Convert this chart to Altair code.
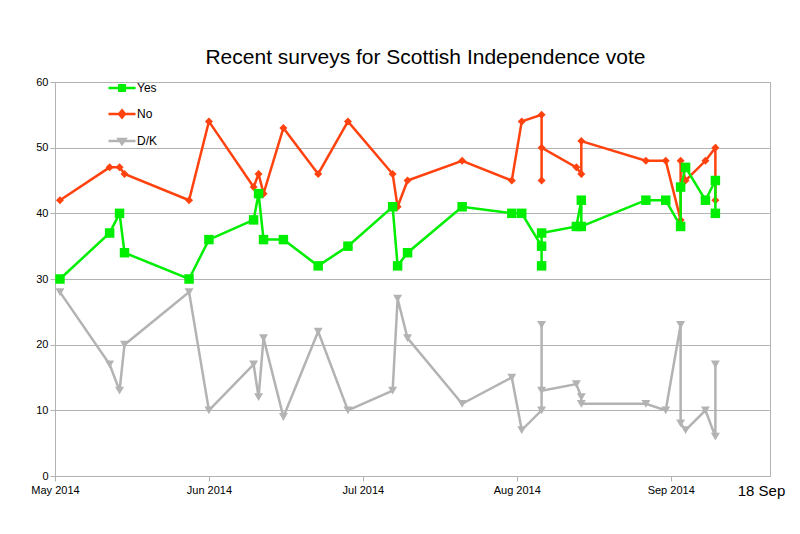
import altair as alt
import pandas as pd

# ---- data ----
dates = ["2014-05-02", "2014-05-12", "2014-05-14", "2014-05-15", "2014-05-28", "2014-06-01",
         "2014-06-10", "2014-06-11", "2014-06-12", "2014-06-16", "2014-06-23", "2014-06-29",
         "2014-07-08", "2014-07-09", "2014-07-11", "2014-07-22", "2014-08-01", "2014-08-03",
         "2014-08-07", "2014-08-07", "2014-08-07", "2014-08-14", "2014-08-15", "2014-08-15",
         "2014-08-28", "2014-09-01", "2014-09-04", "2014-09-04", "2014-09-05", "2014-09-09",
         "2014-09-11", "2014-09-11"]
yes = [30, 37, 40, 34, 30, 36, 39, 43, 36, 36, 32, 35, 41, 32, 34, 41, 40, 40, 35, 32,
       37, 38, 42, 38, 42, 42, 38, 44, 47, 42, 45, 40]
no = [42, 47, 47, 46, 42, 54, 44, 46, 43, 53, 46, 54, 46, 41, 45, 48, 45, 54, 55, 45,
      50, 47, 46, 51, 48, 48, 39, 48, 45, 48, 50, 42]
dk = [28, 17, 13, 20, 28, 10, 17, 12, 21, 9, 22, 10, 13, 27, 21, 11, 15, 7, 10, 23,
      13, 14, 12, 11, 11, 10, 23, 8, 7, 10, 6, 17]

series_names = ["Yes", "No", "D/K"]
series_colors = ["#00ee00", "#ff420e", "#b3b3b3"]
point_shapes = ["square", "diamond", "triangle-down"]
point_sizes = [90, 64, 80]
legend_paths = [
    "M-1,0H1M-0.2,-0.2H0.2V0.2H-0.2Z",
    "M-1,0H1M0,-0.27L0.22,0L0,0.27L-0.22,0Z",
    "M-1,0H1M-0.25,-0.14H0.25L0,0.22Z",
]
x_ticks = ["2014-05-01", "2014-06-01", "2014-07-02", "2014-08-02", "2014-09-02"]
y_ticks = [0, 10, 20, 30, 40, 50, 60]
title_text = "Recent surveys for Scottish Independence vote"
end_label = "18 Sep"

rows = []
for name, vals in zip(series_names, [yes, no, dk]):
    for i, (d, v) in enumerate(zip(dates, vals)):
        rows.append({"date": d, "series": name, "value": v, "idx": i})
df = pd.DataFrame(rows)

FONT = "Liberation Sans"
GRID = "#b3b3b3"


def dt(s):
    y, m, d = [int(p) for p in s.split("-")]
    return alt.DateTime(year=y, month=m, date=d, utc=True)


x_scale = alt.Scale(type="utc", domain=[dt("2014-05-01"), dt("2014-09-22")])
y_scale = alt.Scale(domain=[0, 60], nice=False)

x_axis = alt.Axis(values=[dt(s) for s in x_ticks], format="%b %Y", grid=False,
                  labelFont=FONT, labelFontSize=11, labelColor="#000000",
                  labelPadding=3, tickSize=5, tickColor=GRID, domainColor=GRID,
                  title=end_label, titleFont=FONT, titleFontSize=15,
                  titleFontWeight="normal", titleColor="#000000",
                  titleAlign="center", titleBaseline="alphabetic",
                  titleX=706, titleY=19, labelFlush=False)
y_axis = alt.Axis(values=y_ticks, grid=True, gridColor=GRID, labelFont=FONT,
                  labelFontSize=11, labelColor="#000000", labelPadding=2,
                  tickSize=5, tickColor=GRID, domainColor=GRID, title=None)

layers = []
for name, color, shp, sz in reversed(list(zip(series_names, series_colors, point_shapes, point_sizes))):
    sub = df[df["series"] == name]
    base = alt.Chart(sub).encode(
        x=alt.X("date:T", scale=x_scale, axis=x_axis),
        y=alt.Y("value:Q", scale=y_scale, axis=y_axis),
        order=alt.Order("idx:Q"),
    )
    layers.append(base.mark_line(color=color, strokeWidth=2.5))
    layers.append(base.mark_point(filled=True, shape=shp, size=sz, color=color,
                                  opacity=1, strokeWidth=0))

# legend layer (out of the visible domain, clipped away)
leg_df = pd.DataFrame({"date": ["2014-04-01"] * 3, "series": series_names, "value": [30] * 3})
legend_layer = alt.Chart(leg_df).mark_point(filled=True, clip=True, opacity=1, strokeWidth=2.5).encode(
    x=alt.X("date:T", scale=x_scale, axis=x_axis),
    y=alt.Y("value:Q", scale=y_scale, axis=y_axis),
    color=alt.Color("series:N", scale=alt.Scale(domain=series_names, range=series_colors), title=None),
    stroke=alt.Stroke("series:N", scale=alt.Scale(domain=series_names, range=series_colors), title=None),
    shape=alt.Shape("series:N", scale=alt.Scale(domain=series_names, range=legend_paths), title=None),
)
layers.append(legend_layer)

chart = alt.layer(*layers).properties(
    width=715, height=394,
    title=alt.TitleParams(title_text, font=FONT, fontSize=21, fontWeight="normal",
                          color="#000000", anchor="middle", dx=13, offset=5),
    autosize=alt.AutoSizeParams(type="none"),
    padding={"left": 47, "top": 74, "right": 22, "bottom": 50},
).configure_view(
    stroke=GRID, strokeWidth=1
).configure_legend(
    orient="none", legendX=52, legendY=-9, padding=0, symbolSize=729,
    symbolStrokeWidth=2.5, labelFont=FONT, labelFontSize=12, labelColor="#000000",
    rowPadding=3, labelOffset=0, symbolOffset=0
)

chart.save("out.html", embed_options={"renderer": "svg", "actions": False})
